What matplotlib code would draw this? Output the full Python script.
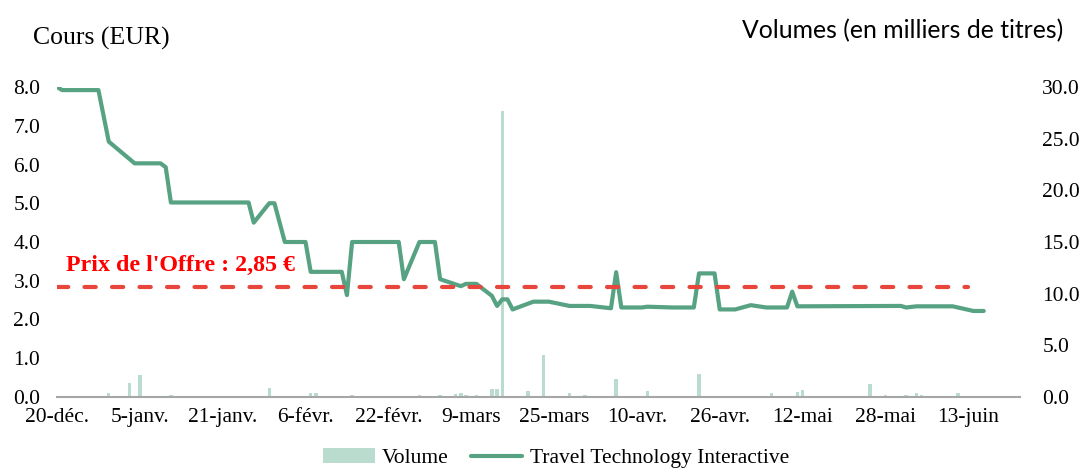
import matplotlib
matplotlib.use("Agg")
import matplotlib.pyplot as plt
import pandas as pd

# ---- data (day offsets from 20 Dec 2023) ----
start = pd.Timestamp("2023-12-20")
price_days = [0, 1, 8, 10, 15, 20, 21, 22, 37, 38, 41, 42, 44, 48, 49, 55, 56, 57,
              66, 67, 70, 73, 74, 78, 79, 81, 84, 85, 86, 87, 88, 92, 95, 99, 103,
              107, 108, 109, 113, 114, 119, 123, 124, 127, 128, 131, 134, 137, 141,
              142, 143, 163, 164, 166, 173, 177, 179]
price_values = [8.00, 7.92, 7.92, 6.59, 6.03, 6.03, 5.93, 5.02, 5.02, 4.50, 5.00, 5.00,
                4.00, 4.00, 3.23, 3.23, 2.63, 4.00,
                4.00, 3.04, 4.00, 4.00, 3.04, 2.86, 2.92, 2.92, 2.61, 2.35, 2.52, 2.52,
                2.26, 2.46, 2.46, 2.35, 2.35,
                2.29, 3.22, 2.31, 2.31, 2.33, 2.31, 2.31, 3.19, 3.19, 2.26, 2.26, 2.37,
                2.31, 2.31,
                2.72, 2.34, 2.35, 2.31, 2.34, 2.34, 2.22, 2.22]

vol_days = [9, 10, 14, 16, 22, 27, 36, 41, 49, 50, 57, 59, 70, 71, 74, 77, 78, 79, 81,
            84, 85, 86, 91, 94, 99, 102, 108, 109, 114, 124, 138, 143, 144, 150, 151,
            157, 160, 164, 166, 167, 174]
vol_values = [0.05, 0.42, 1.32, 2.10, 0.16, 0.07, 0.07, 0.84, 0.35, 0.42, 0.19, 0.07,
              0.16, 0.10, 0.16, 0.26, 0.35, 0.23, 0.16, 0.74, 0.74, 27.65, 0.62, 4.07,
              0.42, 0.19, 1.77, 0.07, 0.58, 2.19, 0.39, 0.48, 0.68, 0.10, 0.10, 1.30,
              0.19, 0.16, 0.42, 0.19, 0.35]

offer_price = 2.85
offer_days = [0, 176]
offer_label = "Prix de l'Offre : 2,85 €"
xtick_labels = ["20-déc.", "5-janv.", "21-janv.", "6-févr.", "22-févr.", "9-mars",
                "25-mars", "10-avr.", "26-avr.", "12-mai", "28-mai", "13-juin"]
left_ticks = [0, 1, 2, 3, 4, 5, 6, 7, 8]
right_ticks = [0, 5, 10, 15, 20, 25, 30]

price_dates = [start + pd.Timedelta(days=d) for d in price_days]
vol_dates = [start + pd.Timedelta(days=d) for d in vol_days]
offer_dates = [start + pd.Timedelta(days=d) for d in offer_days]
tick_dates = [start + pd.Timedelta(days=16 * i) for i in range(len(xtick_labels))]

serif = ["Liberation Serif", "DejaVu Serif"]
plt.rcParams["font.family"] = serif

fig = plt.figure(figsize=(10.86, 4.68), dpi=100)
W, H = 1086, 468
ax = fig.add_axes([57 / W, 1 - 397 / H, (1020 - 57) / W, (397 - 87) / H])
ax2 = ax.twinx()
ax.set_zorder(2)
ax.patch.set_visible(False)

line_color = "#57a283"
bar_color = "#b9dccf"
red = "#e8453c"

bars = ax2.bar(vol_dates, vol_values, width=0.65, color=bar_color, label="Volume",
               zorder=1)
ln, = ax.plot(price_dates, price_values, color=line_color, lw=3.0,
              solid_joinstyle="round", solid_capstyle="round",
              label="Travel Technology Interactive")
ax.plot(offer_dates, [offer_price] * 2, color=red, lw=3.0, dashes=(2.7, 3.9),
        dash_capstyle="round")
ax.text(start + pd.Timedelta(days=1.7), 3.25, offer_label, color="#ff0000",
        fontsize=17.3, fontweight="bold", va="baseline", ha="left", family=serif)

xmin = start
xmax = start + pd.Timedelta(days=186)
ax.set_xlim(xmin, xmax)
ax2.set_xlim(xmin, xmax)
ax.set_ylim(0, 8)
ax2.set_ylim(0, 30)

ax.set_yticks(left_ticks)
ax.set_yticklabels([f"{v:.1f}" for v in left_ticks])
ax2.set_yticks(right_ticks)
ax2.set_yticklabels([f"{v:.1f}" for v in right_ticks])
ax.set_xticks(tick_dates)
ax.set_xticklabels(xtick_labels)

for a in (ax, ax2):
    for s in a.spines.values():
        s.set_visible(False)
ax.spines["bottom"].set_visible(True)
ax.spines["bottom"].set_color("#a6a6a6")
ax.spines["bottom"].set_linewidth(1.5)

ax.tick_params(axis="y", length=0, pad=12, labelsize=15.5)
ax2.tick_params(axis="y", length=0, pad=16, labelsize=15.5)
ax.tick_params(axis="x", length=0, pad=8, labelsize=15.5)

fig.text(33 / W, 1 - 38 / H, "Cours (EUR)", fontsize=18.5, va="center", ha="left",
         family=serif)
fig.text(1063 / W, 1 - 31 / H, "Volumes (en milliers de titres)", fontsize=17.8,
         va="center", ha="right", family=["Lato", "DejaVu Sans"])

fig.legend([bars, ln], ["Volume", "Travel Technology Interactive"],
           loc="center", bbox_to_anchor=(556 / W, 1 - 458 / H), ncol=2,
           frameon=False, fontsize=15.5, handlelength=2.4, columnspacing=1.0,
           handletextpad=0.35, borderpad=0.1)

fig.savefig("out.png", dpi=100)
